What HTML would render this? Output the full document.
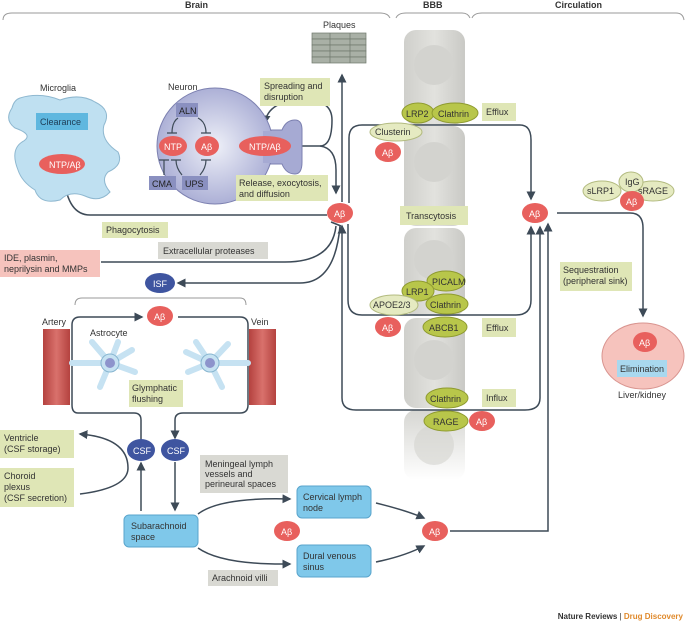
<!DOCTYPE html>
<html><head><meta charset="utf-8"><style>
body{margin:0;background:#fff}
svg{display:block;font-family:"Liberation Sans",sans-serif}
text{font-size:9px;fill:#333}
.w{fill:#fff}
</style></head><body>
<svg width="685" height="625" viewBox="0 0 685 625" xmlns="http://www.w3.org/2000/svg">
<defs>
<marker id="a" markerWidth="6" markerHeight="6" refX="5" refY="3" orient="auto"><path d="M0,0L6,3L0,6z" fill="#3d4a57"/></marker>
<radialGradient id="neu" cx="50%" cy="50%" r="55%"><stop offset="0" stop-color="#eef0f8"/><stop offset="1" stop-color="#a6aad3"/></radialGradient>
<linearGradient id="col" x1="0" x2="1"><stop offset="0" stop-color="#cfcfcb"/><stop offset=".5" stop-color="#e2e2de"/><stop offset="1" stop-color="#c9c9c5"/></linearGradient>
<linearGradient id="fade" x1="0" y1="0" x2="0" y2="1"><stop offset="0" stop-color="#d6d6d2"/><stop offset="1" stop-color="#fff"/></linearGradient>
<linearGradient id="red" x1="0" x2="1"><stop offset="0" stop-color="#b4423f"/><stop offset=".5" stop-color="#d9716c"/><stop offset="1" stop-color="#b4423f"/></linearGradient>
</defs>
<g stroke="#3d4a57" stroke-width="1.5" fill="none">
<path d="M3,20 Q3,13 12,13 L380,13 Q388,13 390,18" stroke="#999" stroke-width="1"/>
<path d="M396,18 Q398,13 406,13 L462,13 Q468,13 470,18" stroke="#999" stroke-width="1"/>
<path d="M472,18 Q474,13 482,13 L676,13 Q683,13 684,20" stroke="#999" stroke-width="1"/>
</g>
<text x="185" y="8" font-weight="bold" style="font-size:9px">Brain</text>
<text x="423" y="8" font-weight="bold">BBB</text>
<text x="555" y="8" font-weight="bold">Circulation</text>

<rect x="404" y="30" width="61" height="95" rx="12" fill="url(#col)"/>
<rect x="404" y="126" width="61" height="100" rx="12" fill="url(#col)"/>
<rect x="404" y="228" width="61" height="88" rx="12" fill="url(#col)"/>
<rect x="404" y="318" width="61" height="90" rx="12" fill="url(#col)"/>
<rect x="404" y="410" width="61" height="70" rx="12" fill="url(#fade)"/>
<g fill="#d3d3cf"><circle cx="434" cy="65" r="20"/><circle cx="434" cy="162" r="20"/><circle cx="434" cy="260" r="20"/><circle cx="434" cy="360" r="20"/><circle cx="434" cy="445" r="20" opacity=".6"/></g>

<text x="323" y="28">Plaques</text>
<g fill="#a9b0a6" stroke="#6f786c" stroke-width=".7">
<rect x="312" y="33" width="54" height="6"/><rect x="312" y="39" width="54" height="6"/><rect x="312" y="45" width="54" height="6"/><rect x="312" y="51" width="54" height="6"/><rect x="312" y="57" width="54" height="6"/>
<line x1="330" y1="33" x2="330" y2="63"/><line x1="350" y1="33" x2="350" y2="63"/>
</g>

<g stroke="#3d4a57" stroke-width="1.5" fill="none">
<path d="M342,202 L342,75" marker-end="url(#a)"/>
<path d="M292,146 L320,146 Q332,146 332,120 Q332,100 305,100 Q268,100 265,123" marker-end="url(#a)"/>
<path d="M320,146 Q336,148 336,170 L336,193" marker-end="url(#a)"/>
<path d="M349,203 L349,138 Q349,125 362,125 L520,125 Q531,125 531,140 L531,199" marker-end="url(#a)"/>
<path d="M348,224 L348,300 Q348,315 362,315 L516,315 Q531,315 531,300 L531,227" marker-end="url(#a)"/>
<path d="M342,265 L342,398 Q342,410 356,410 L525,410 Q540,410 540,398 L540,227" marker-end="url(#a)"/>
<path d="M342,265 L342,226" marker-end="url(#a)"/>
<path d="M327,215 L90,215 Q68,215 64,178" marker-end="url(#a)"/>
<path d="M101,262 L285,262 Q332,262 336,226"/>
<path d="M331,222 L341,226"/>
<path d="M340,226 Q335,283 300,283 L178,283" marker-end="url(#a)"/>
<path d="M557,213 L630,213 Q643,213 643,228 L643,316" marker-end="url(#a)"/>
<path d="M450,531 L548,531 L548,224" marker-end="url(#a)"/>
<path d="M75,305 Q75,298 82,298 L240,298 Q246,298 246,305" stroke="#999" stroke-width="1"/>
<path d="M141,440 L141,420 Q141,413 134,413 L78,413 Q72,413 72,405 L72,325 Q72,317 80,317 L142,317" marker-end="url(#a)"/>
<path d="M178,317 L240,317 Q248,317 248,325 L248,405 Q248,413 240,413 L183,413 Q175,413 175,420 L175,438" marker-end="url(#a)"/>
<path d="M141,511 L141,463" marker-end="url(#a)"/>
<path d="M175,462 L175,510" marker-end="url(#a)"/>
<path d="M80,494 Q128,488 128,468 Q128,438 80,434" marker-end="url(#a)"/>
<path d="M198,514 Q220,497 290,499" marker-end="url(#a)"/>
<path d="M198,548 Q222,565 290,564" marker-end="url(#a)"/>
<path d="M376,503 Q405,510 424,518" marker-end="url(#a)"/>
<path d="M376,562 Q405,556 424,546" marker-end="url(#a)"/>
<path d="M62,132 L62,150"/><path d="M57,150 L67,150"/>
</g>

<text x="40" y="91">Microglia</text>
<path d="M20,98 Q40,92 60,100 Q80,93 95,102 Q112,110 104,125 Q100,140 118,152 Q124,165 108,172 Q100,180 110,192 Q100,203 85,196 Q70,190 60,200 Q40,205 35,190 Q22,182 18,170 Q10,150 22,142 Q35,135 15,128 Q4,120 12,108 Q14,100 20,98z" fill="#bfe0f1" stroke="#8fb8d0"/>
<rect x="36" y="113" width="52" height="17" fill="#5fb7df"/><text x="40" y="125" style="fill:#1e3c55">Clearance</text>

<text x="168" y="90">Neuron</text>
<path d="M255,130 L282,130 Q286,120 295,120 Q302,120 302,130 L302,162 Q302,174 295,174 Q286,174 282,164 L255,164 Z" fill="#a6aad3" stroke="#7c80b0"/>
<circle cx="215" cy="146" r="58" fill="url(#neu)" stroke="#7c80b0"/>
<rect x="263" y="131" width="21" height="32" fill="#a6aad3"/>
<rect x="176" y="103" width="22" height="14" fill="#8a90c0"/><text x="179" y="114" style="fill:#222">ALN</text>
<rect x="149" y="176" width="27" height="14" fill="#8a90c0"/><text x="152" y="187" style="fill:#222">CMA</text>
<rect x="182" y="176" width="26" height="14" fill="#8a90c0"/><text x="185" y="187" style="fill:#222">UPS</text>
<g stroke="#3d4a57" stroke-width="1.2" fill="none">
<path d="M178,118 Q172,122 172,133 M167,133 L177,133"/><path d="M198,118 Q206,122 206,133 M201,133 L211,133"/>
<path d="M164,175 L164,160 M159,160 L169,160"/><path d="M182,175 Q176,168 176,160 M171,160 L181,160"/><path d="M200,175 Q206,168 206,160 M201,160 L211,160"/>
</g>

<g fill="#dfe6b6">
<rect x="260" y="78" width="70" height="28"/><rect x="236" y="175" width="92" height="26"/><rect x="102" y="222" width="66" height="16"/>
<rect x="482" y="103" width="34" height="18"/><rect x="400" y="206" width="68" height="19"/><rect x="482" y="318" width="34" height="19"/><rect x="482" y="389" width="34" height="18"/>
<rect x="560" y="262" width="72" height="29"/><rect x="129" y="380" width="54" height="27"/><rect x="0" y="430" width="74" height="28"/><rect x="0" y="468" width="74" height="39"/>
</g>
<g fill="#d9d9d3"><rect x="158" y="242" width="110" height="17"/><rect x="200" y="455" width="88" height="38"/><rect x="208" y="570" width="70" height="16"/></g>
<rect x="0" y="250" width="100" height="27" fill="#f6c3bd"/>
<text x="264" y="89">Spreading and</text><text x="264" y="100">disruption</text>
<text x="239" y="186">Release, exocytosis,</text><text x="239" y="197">and diffusion</text>
<text x="106" y="233">Phagocytosis</text>
<text x="163" y="254">Extracellular proteases</text>
<text x="4" y="261">IDE, plasmin,</text><text x="4" y="272">neprilysin and MMPs</text>
<text x="486" y="115">Efflux</text><text x="406" y="219">Transcytosis</text><text x="486" y="331">Efflux</text><text x="486" y="401">Influx</text>
<text x="563" y="273">Sequestration</text><text x="563" y="284">(peripheral sink)</text>
<text x="132" y="391">Glymphatic</text><text x="132" y="402">flushing</text>
<text x="4" y="441">Ventricle</text><text x="4" y="452">(CSF storage)</text>
<text x="4" y="479">Choroid</text><text x="4" y="490">plexus</text><text x="4" y="501">(CSF secretion)</text>
<text x="205" y="467">Meningeal lymph</text><text x="205" y="477">vessels and</text><text x="205" y="487">perineural spaces</text>
<text x="212" y="581">Arachnoid villi</text>

<text x="42" y="325">Artery</text><text x="251" y="325">Vein</text><text x="90" y="336">Astrocyte</text>
<rect x="43" y="329" width="27" height="76" fill="url(#red)"/><rect x="249" y="329" width="27" height="76" fill="url(#red)"/>
<g fill="#c6e2f2" stroke="#88b6d0" stroke-width="1">
<path d="M110,363 L92,342 M110,363 L118,342 M110,363 L132,350 M110,363 L135,372 M110,363 L100,387 M110,363 L72,363" stroke="#c6e2f2" stroke-width="6" stroke-linecap="round"/>
<circle cx="110" cy="363" r="9"/>
<path d="M210,363 L196,342 M210,363 L228,344 M210,363 L188,372 M210,363 L222,387 M210,363 L248,363 M210,363 L186,352" stroke="#c6e2f2" stroke-width="6" stroke-linecap="round"/>
<circle cx="210" cy="363" r="9"/>
</g>
<circle cx="110" cy="363" r="5" fill="#8d94cc"/><circle cx="210" cy="363" r="5" fill="#8d94cc"/>

<g fill="#7fc8ea" stroke="#5aa5cc"><rect x="124" y="515" width="74" height="32" rx="5"/><rect x="297" y="486" width="74" height="32" rx="5"/><rect x="297" y="545" width="74" height="32" rx="5"/></g>
<text x="131" y="529">Subarachnoid</text><text x="131" y="540">space</text>
<text x="303" y="500">Cervical lymph</text><text x="303" y="511">node</text>
<text x="303" y="559">Dural venous</text><text x="303" y="570">sinus</text>

<ellipse cx="643" cy="356" rx="41" ry="33" fill="#f6c3bd" stroke="#d99590"/>
<rect x="617" y="360" width="50" height="17" fill="#a9d8ee"/><text x="620" y="372">Elimination</text>
<text x="618" y="398">Liver/kidney</text>

<g fill="#b8c64a" stroke="#8f9b30">
<ellipse cx="418" cy="113" rx="16" ry="10"/><ellipse cx="455" cy="113" rx="23" ry="10"/>
<ellipse cx="446" cy="281" rx="19" ry="10"/><ellipse cx="418" cy="291" rx="16" ry="10"/><ellipse cx="447" cy="304" rx="21" ry="10"/>
<ellipse cx="445" cy="327" rx="22" ry="10"/><ellipse cx="447" cy="398" rx="21" ry="10"/><ellipse cx="446" cy="421" rx="22" ry="10"/>
</g>
<g fill="#e5eac1" stroke="#b3bb80">
<ellipse cx="396" cy="132" rx="26" ry="9"/><ellipse cx="394" cy="305" rx="24" ry="10"/>
<ellipse cx="602" cy="191" rx="19" ry="10"/><ellipse cx="653" cy="191" rx="21" ry="10"/><ellipse cx="631" cy="182" rx="12" ry="10"/>
</g>
<text x="406" y="117">LRP2</text><text x="438" y="117">Clathrin</text><text x="375" y="135">Clusterin</text>
<text x="432" y="285">PICALM</text><text x="406" y="295">LRP1</text><text x="430" y="308">Clathrin</text><text x="373" y="308">APOE2/3</text>
<text x="429" y="331">ABCB1</text><text x="430" y="402">Clathrin</text><text x="433" y="425">RAGE</text>
<text x="587" y="194">sLRP1</text><text x="625" y="185">IgG</text><text x="638" y="194">sRAGE</text>

<g fill="#e8605d">
<ellipse cx="62" cy="164" rx="23" ry="10"/><ellipse cx="173" cy="146" rx="14" ry="10"/><ellipse cx="207" cy="146" rx="12" ry="10"/><ellipse cx="265" cy="146" rx="26" ry="10"/>
<ellipse cx="340" cy="213" rx="13" ry="10"/><ellipse cx="388" cy="152" rx="13" ry="10"/><ellipse cx="535" cy="213" rx="13" ry="10"/><ellipse cx="632" cy="201" rx="12" ry="10"/>
<ellipse cx="388" cy="327" rx="13" ry="10"/><ellipse cx="482" cy="421" rx="13" ry="10"/><ellipse cx="160" cy="316" rx="13" ry="10"/>
<ellipse cx="287" cy="531" rx="13" ry="10"/><ellipse cx="435" cy="531" rx="13" ry="10"/><ellipse cx="645" cy="342" rx="12" ry="10"/>
</g>
<g fill="#3f55a0"><ellipse cx="160" cy="283" rx="15" ry="10"/><ellipse cx="141" cy="450" rx="14" ry="11"/><ellipse cx="175" cy="450" rx="14" ry="11"/></g>
<g style="font-size:8.5px">
<text class="w" x="49" y="168">NTP/Aβ</text><text class="w" x="164" y="150">NTP</text><text class="w" x="201" y="150">Aβ</text><text class="w" x="249" y="150">NTP/Aβ</text>
<text class="w" x="334" y="217">Aβ</text><text class="w" x="382" y="156">Aβ</text><text class="w" x="529" y="217">Aβ</text><text class="w" x="626" y="205">Aβ</text>
<text class="w" x="382" y="331">Aβ</text><text class="w" x="476" y="425">Aβ</text><text class="w" x="154" y="320">Aβ</text>
<text class="w" x="281" y="535">Aβ</text><text class="w" x="429" y="535">Aβ</text><text class="w" x="639" y="346">Aβ</text>
<text class="w" x="153" y="287">ISF</text><text class="w" x="133" y="454">CSF</text><text class="w" x="167" y="454">CSF</text>
</g>
<text x="683" y="619" text-anchor="end" style="font-size:8px;font-weight:bold"><tspan style="fill:#333">Nature Reviews</tspan><tspan style="fill:#333;font-weight:normal"> | </tspan><tspan style="fill:#e08a2c">Drug Discovery</tspan></text>
</svg>
</body></html>
